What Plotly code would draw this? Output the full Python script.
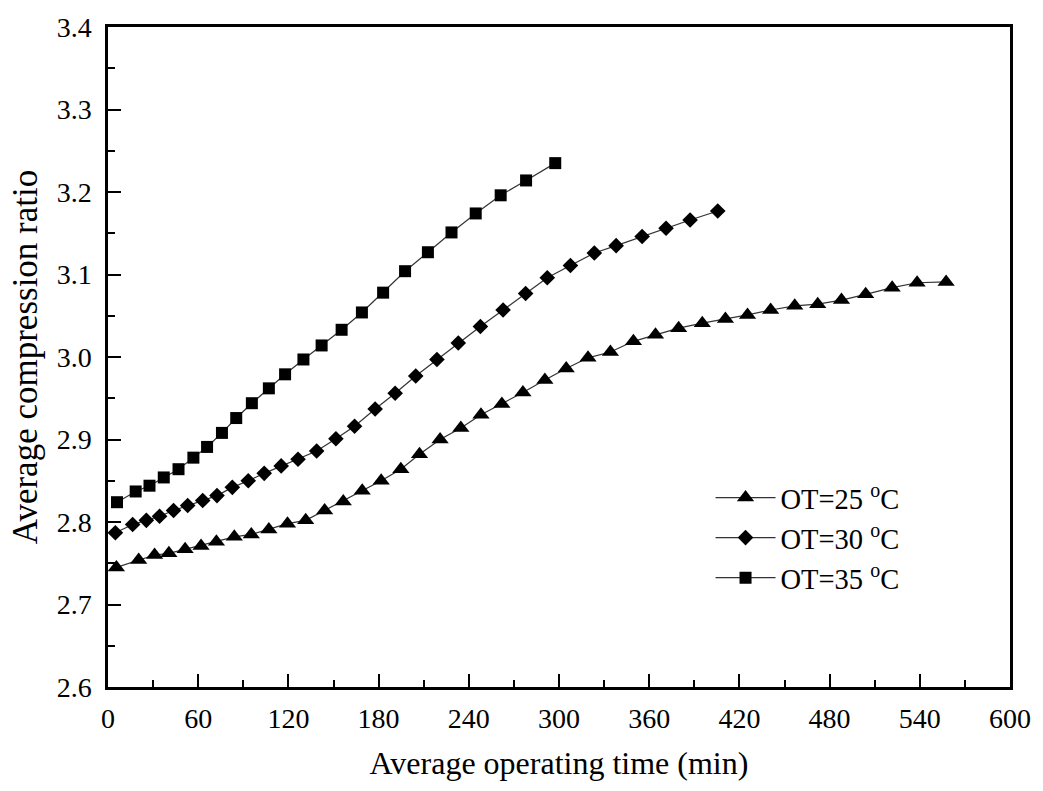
import plotly.graph_objects as go

# ---- data ----
t25 = [5.6, 20.4, 31.0, 40.5, 51.3, 61.9, 72.1, 84.0, 95.3, 107.0, 119.4, 131.5, 144.1,
       156.5, 169.1, 181.7, 194.8, 207.2, 220.9, 234.7, 248.1, 262.0, 276.0, 290.6, 304.8,
       319.3, 334.2, 349.5, 364.2, 379.6, 395.3, 410.7, 425.4, 440.8, 456.8, 472.1, 487.9,
       504.0, 521.6, 538.2, 557.5]
r25 = [2.745, 2.754, 2.760, 2.762, 2.767, 2.771, 2.776, 2.782, 2.785, 2.791, 2.798, 2.802,
       2.814, 2.825, 2.838, 2.850, 2.864, 2.882, 2.900, 2.914, 2.930, 2.943, 2.957, 2.972,
       2.986, 2.999, 3.006, 3.019, 3.027, 3.035, 3.041, 3.046, 3.051, 3.057, 3.062, 3.064,
       3.069, 3.076, 3.084, 3.090, 3.091]

t30 = [4.9, 16.4, 25.5, 34.3, 43.6, 53.0, 63.0, 72.5, 82.7, 93.3, 103.9, 115.2, 126.4,
       138.8, 151.6, 164.0, 177.7, 191.0, 204.7, 218.8, 233.0, 247.7, 262.8, 277.8, 292.2,
       307.6, 323.5, 338.0, 355.3, 371.2, 387.2, 405.6]
r30 = [2.787, 2.797, 2.802, 2.807, 2.814, 2.820, 2.826, 2.832, 2.842, 2.850, 2.859, 2.868,
       2.876, 2.886, 2.901, 2.916, 2.937, 2.956, 2.977, 2.997, 3.017, 3.037, 3.057, 3.077,
       3.096, 3.111, 3.126, 3.135, 3.146, 3.156, 3.166, 3.177]

t35 = [6.0, 18.4, 27.6, 37.1, 46.9, 56.8, 65.9, 75.8, 85.3, 95.7, 107.0, 117.8, 130.0,
       142.1, 155.4, 168.9, 183.0, 197.6, 212.8, 228.5, 244.6, 261.2, 278.1, 297.5]
r35 = [2.824, 2.837, 2.844, 2.854, 2.864, 2.878, 2.891, 2.908, 2.926, 2.944, 2.962, 2.979,
       2.997, 3.014, 3.033, 3.054, 3.078, 3.104, 3.127, 3.151, 3.174, 3.196, 3.214, 3.235]

names = ["OT=25 <sup>o</sup>C", "OT=30 <sup>o</sup>C", "OT=35 <sup>o</sup>C"]
x_ticks = [0, 60, 120, 180, 240, 300, 360, 420, 480, 540, 600]
y_ticks = [2.6, 2.7, 2.8, 2.9, 3.0, 3.1, 3.2, 3.3, 3.4]

FONT = "Liberation Serif, Times New Roman, serif"

fig = go.Figure()
series = [(t25, r25, "triangle-up", 15), (t30, r30, "diamond", 12), (t35, r35, "square", 12)]
for (x, y, sym, sz), nm in zip(series, names):
    fig.add_trace(go.Scatter(
        x=x, y=y, name=nm, mode="lines+markers",
        line=dict(color="#333333", width=1.2),
        marker=dict(symbol=sym, size=sz, color="black", line=dict(width=0)),
    ))

axis_common = dict(
    showline=True, linecolor="black", linewidth=2.5, mirror=True,
    ticks="inside", ticklen=13, tickwidth=2, tickcolor="black",
    showgrid=False, zeroline=False,
    tickfont=dict(family=FONT, size=28, color="black"),
)

fig.update_xaxes(
    range=[0, 600], tickvals=x_ticks, ticktext=[str(v) for v in x_ticks],
    minor=dict(ticks="inside", ticklen=7, tickwidth=2, dtick=30, tickcolor="black", tick0=0),
    title=dict(text="Average operating time (min)", font=dict(family=FONT, size=32, color="black"), standoff=19),
    ticklabelstandoff=5,
    **axis_common,
)
fig.update_yaxes(
    range=[2.6, 3.4], tickvals=y_ticks, ticktext=[f"{v:.1f}" for v in y_ticks],
    minor=dict(ticks="inside", ticklen=7, tickwidth=2, dtick=0.05, tickcolor="black", tick0=2.6),
    title=dict(text="Average compression ratio", font=dict(family=FONT, size=35, color="black"), standoff=9),
    ticklabelstandoff=8,
    **axis_common,
)

fig.update_layout(
    width=1043, height=791,
    margin=dict(l=108, r=31, t=20, b=104),
    paper_bgcolor="white", plot_bgcolor="white",
    font=dict(family=FONT, size=28, color="black"),
    showlegend=True,
    legend=dict(x=0.668, y=0.325, xanchor="left", yanchor="top",
                bgcolor="rgba(0,0,0,0)", borderwidth=0,
                font=dict(family=FONT, size=28.5, color="black"),
                itemwidth=60, tracegroupgap=0),
)

fig.write_html("out.html")
